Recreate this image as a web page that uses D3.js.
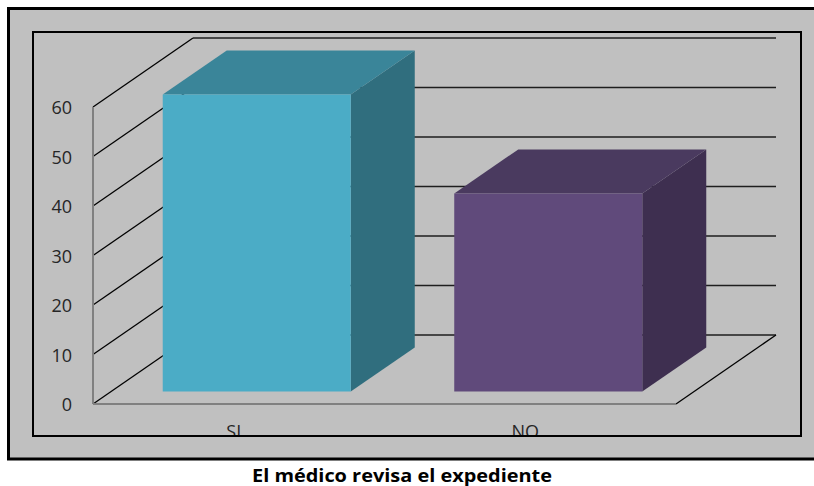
<!DOCTYPE html>
<html>
<head>
<meta charset="utf-8">
<script src="https://cdn.jsdelivr.net/npm/d3@7"></script>
<style>
  html, body { margin: 0; padding: 0; background: #ffffff; }
  svg { display: block; }
  text { font-family: "Open Sans", "Liberation Sans", sans-serif; }
</style>
</head>
<body>
<svg id="chart" width="814" height="486"></svg>
<script>
// Chart data
const categories = ["SI", "NO"];
const values = [60, 40];
const tickValues = [0, 10, 20, 30, 40, 50, 60];
const title = "El médico revisa el expediente";

// Bar colours: front, top, side
const frontColors = ["#4bacc6", "#604a7b"];
const topColors = ["#3a8599", "#4a3a5f"];
const sideColors = ["#306e7e", "#3e2f50"];

const svg = d3.select("#chart");

// Outer panel and inner plot frame
svg.append("rect").attr("x", 8).attr("y", 8).attr("width", 820).attr("height", 451)
  .attr("fill", "#c0c0c0");
svg.append("path").attr("d", "M830,8.5H8.5V459H830")
  .attr("fill", "none").attr("stroke", "#000").attr("stroke-width", 3);

// 3D layout: front-plane scales plus a depth offset
const x = d3.scaleBand().domain(categories).range([93, 676]).padding(0);
const y = d3.scaleLinear().domain([0, 60]).range([404, 107]);
const depthX = 100, depthY = -69;
const project = (px, v, d) => [px + depthX * d, y(v) + depthY * d];

const defs = svg.append("defs");
defs.append("clipPath").attr("id", "plotClip")
  .append("rect").attr("x", 34).attr("y", 33).attr("width", 766).attr("height", 402);

const plot = svg.append("g").attr("clip-path", "url(#plotClip)");

// Back wall gridlines
plot.append("g").selectAll("line").data(tickValues).join("line")
  .attr("x1", d => project(x.range()[0], d, 1)[0])
  .attr("x2", d => project(x.range()[1], d, 1)[0])
  .attr("y1", d => project(0, d, 1)[1])
  .attr("y2", d => project(0, d, 1)[1])
  .attr("stroke", "#1e1e1e").attr("stroke-width", 1.6);

// Side wall gridlines (diagonals)
plot.append("g").selectAll("line").data(tickValues).join("line")
  .attr("x1", d => project(x.range()[0], d, 0)[0])
  .attr("y1", d => project(x.range()[0], d, 0)[1])
  .attr("x2", d => project(x.range()[0], d, 1)[0])
  .attr("y2", d => project(x.range()[0], d, 1)[1])
  .attr("stroke", "#000").attr("stroke-width", 1.3);

// Floor edges
const fr = x.range();
plot.append("line")
  .attr("x1", project(fr[1], 0, 0)[0]).attr("y1", project(fr[1], 0, 0)[1])
  .attr("x2", project(fr[1], 0, 1)[0]).attr("y2", project(fr[1], 0, 1)[1])
  .attr("stroke", "#000").attr("stroke-width", 1.3);
plot.append("line")
  .attr("x1", fr[0]).attr("y1", y(0)).attr("x2", fr[1]).attr("y2", y(0))
  .attr("stroke", "#808080").attr("stroke-width", 2);
plot.append("line")
  .attr("x1", fr[0]).attr("y1", y(0)).attr("x2", fr[0]).attr("y2", y(60))
  .attr("stroke", "#808080").attr("stroke-width", 2);

// Bars
const d0 = 0.18, d1 = 0.82, barFrac = 0.645;
const bars = plot.append("g").selectAll("g").data(categories).join("g");
const pts = arr => arr.map(p => p.join(",")).join(" ");
bars.each(function (c, i) {
  const g = d3.select(this);
  const cx = x(c) + x.bandwidth() / 2;
  const half = x.bandwidth() * barFrac / 2;
  const x0 = cx - half, x1 = cx + half, v = values[i];
  g.append("polygon").attr("fill", sideColors[i])
    .attr("points", pts([project(x1, 0, d0), project(x1, v, d0), project(x1, v, d1), project(x1, 0, d1)]));
  g.append("polygon").attr("fill", topColors[i])
    .attr("points", pts([project(x0, v, d0), project(x1, v, d0), project(x1, v, d1), project(x0, v, d1)]));
  g.append("polygon").attr("fill", frontColors[i])
    .attr("points", pts([project(x0, 0, d0), project(x1, 0, d0), project(x1, v, d0), project(x0, v, d0)]));
});

// Category labels (bottom clipped by the frame)
plot.append("g").selectAll("text").data(categories).join("text")
  .attr("x", d => x(d) + x.bandwidth() / 2 - 5)
  .attr("y", 438)
  .attr("text-anchor", "middle")
  .attr("font-size", 18).attr("fill", "#262626")
  .text(d => d);

// Value axis labels
const yAxis = d3.axisLeft(y).tickValues(tickValues).tickSize(0).tickPadding(21);
const ax = svg.append("g").attr("transform", `translate(${fr[0]},0)`).call(yAxis);
ax.select(".domain").remove();
ax.selectAll("text")
  .attr("font-family", "'Open Sans', sans-serif")
  .attr("font-size", 18).attr("fill", "#262626").attr("dy", "0.38em");

// Inner frame
svg.append("rect").attr("x", 33).attr("y", 32).attr("width", 768).attr("height", 404)
  .attr("fill", "none").attr("stroke", "#000").attr("stroke-width", 2);

// Title
svg.append("text")
  .attr("x", 402).attr("y", 482)
  .attr("text-anchor", "middle")
  .attr("font-size", 18).attr("font-weight", "bold").attr("fill", "#000")
  .attr("textLength", 300).attr("lengthAdjust", "spacingAndGlyphs")
  .text(title);
</script>
</body>
</html>
